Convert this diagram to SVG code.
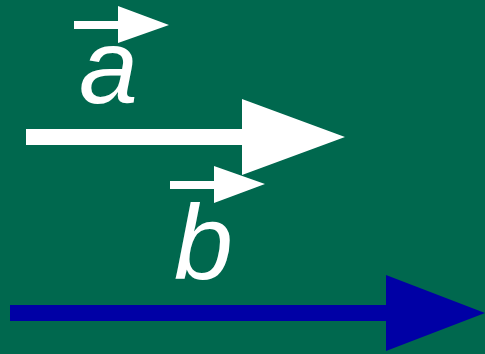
<svg xmlns="http://www.w3.org/2000/svg" width="485" height="354" viewBox="0 0 485 354">
<style>
.w{fill:#ffffff}
.lbl{font-family:"Liberation Sans",Arial,sans-serif;font-style:italic;font-size:106px;fill:#ffffff}
</style>
<rect width="485" height="354" fill="#00684e"/>
<g id="label-a">
<polygon class="w" points="74,21 118,21 118,6 169,25 118,43 118,29 74,29"/>
<text class="lbl" x="79" y="103">a</text>
</g>
<g id="label-b">
<polygon class="w" points="170,181 214,181 214,166 265,184 214,203 214,189 170,189"/>
<text class="lbl" x="174" y="279">b</text>
</g>
<g id="connectors">
<polygon id="arrow-a" class="w" points="26,129 242,129 242,99 345,137 242,175 242,145 26,145"/>
<polygon id="arrow-b" fill="#0000a5" points="10,305 386,305 386,275 485,313 386,351 386,321 10,321"/>
</g>
</svg>
